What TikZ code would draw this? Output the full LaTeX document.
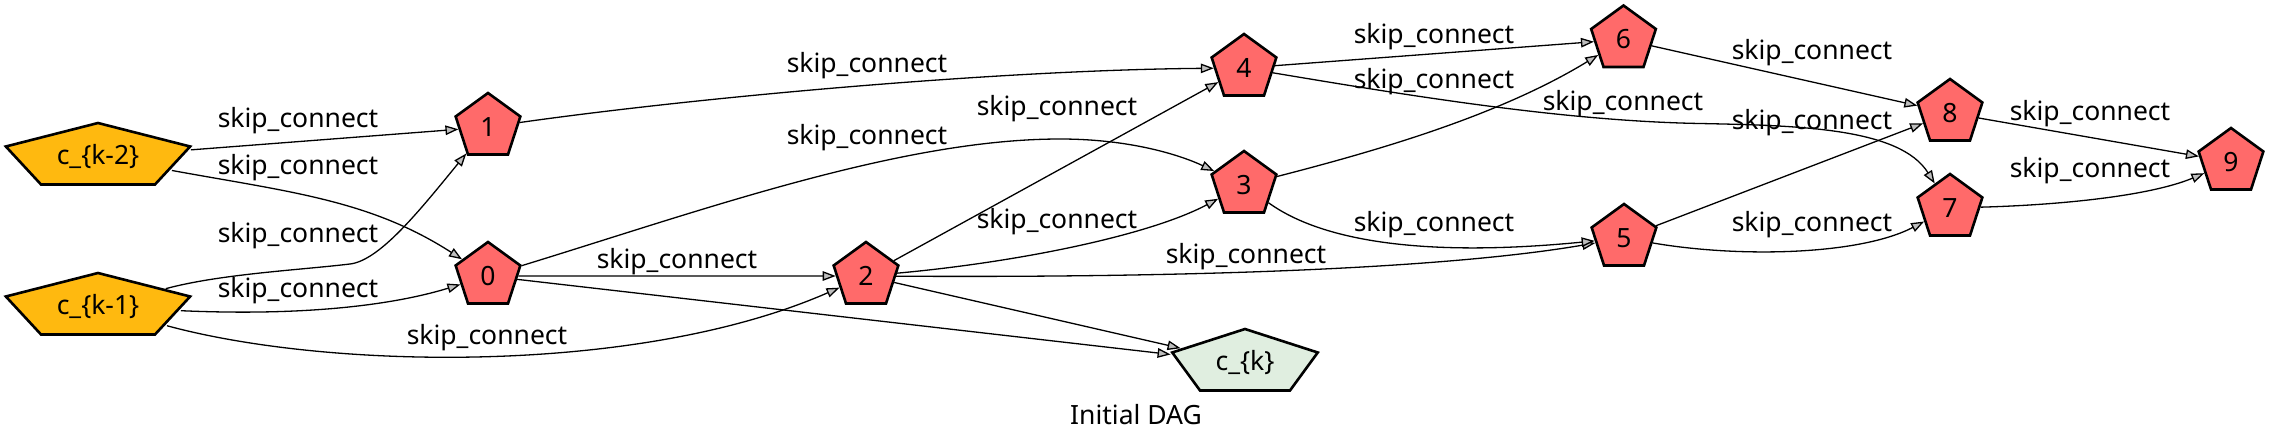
\documentclass[tikz,border=0pt]{standalone}
\usepackage{fontspec}
\setmainfont{Noto Sans}
\usetikzlibrary{shapes.geometric,arrows.meta}
\definecolor{nodered}{HTML}{FF6A6A}
\definecolor{inorange}{HTML}{FFB90F}
\definecolor{outgreen}{HTML}{E0EEE0}
\definecolor{tipgray}{HTML}{BEBEBE}
\begin{document}
\begin{tikzpicture}[x=1pt,y=-1pt,
  pent/.style={regular polygon, regular polygon sides=5, minimum size=68pt,
    inner sep=0pt, draw=black, line width=2.6pt, line join=miter},
  txt/.style={font=\fontsize{26.5}{30}\selectfont, inner sep=0pt, text=black},
  opnode/.style={pent, fill=nodered, txt},
  innode/.style={pent, fill=inorange},
  outnode/.style={pent, fill=outgreen},
  edge/.style={draw=black, line width=1.3pt,
    -{Triangle[length=13pt,width=9.5pt,fill=tipgray]}},
  lbl/.style={txt, anchor=base}]
\useasboundingbox (0,0) rectangle (2269,445);

% input nodes (stretched pentagons)
\begin{scope}[shift={(98,157)},xscale=2.85]
  \node[innode, transform shape] (ck2) at (0,0) {};
\end{scope}
\begin{scope}[shift={(98,307)},xscale=2.85]
  \node[innode, transform shape] (ck1) at (0,0) {};
\end{scope}
\begin{scope}[shift={(1245,363)},xscale=2.25]
  \node[outnode, transform shape] (ck) at (0,0) {};
\end{scope}
\node[txt] (tck2) at (ck2) {c\_\{k-2\}};
\node[txt] (tck1) at (ck1) {c\_\{k-1\}};
\node[txt] (tck) at (ck) {c\_\{k\}};

% operation nodes
\node[opnode] (n1) at (488,127) {1};
\node[opnode] (n0) at (488,276) {0};
\node[opnode] (n2) at (866,276) {2};
\node[opnode] (n4) at (1244,68) {4};
\node[opnode] (n3) at (1244,185) {3};
\node[opnode] (n6) at (1623.5,39.5) {6};
\node[opnode] (n5) at (1624,238) {5};
\node[opnode] (n8) at (1950,113) {8};
\node[opnode] (n7) at (1950,208) {7};
\node[opnode] (n9) at (2231,162) {9};

% edges
\draw[edge] (ck2) -- (n1) node[lbl] at (298,127) {skip\_connect};
\draw[edge] (ck2) .. controls (290,192) and (370,200) .. (n0)
  node[lbl] at (298,174) {skip\_connect};
\draw[edge] (ck1) .. controls (220,274) and (300,270) .. (350,264)
  .. controls (380,260.4) and (420,210) .. (n1)
  node[lbl] at (298,242) {skip\_connect};
\draw[edge] (ck1) .. controls (300,316) and (390,306) .. (n0)
  node[lbl] at (298,297) {skip\_connect};
\draw[edge] (ck1) .. controls (330,370) and (640,375) .. (n2)
  node[lbl] at (487,344) {skip\_connect};
\draw[edge] (n1) .. controls (700,97) and (1000,70) .. (n4)
  node[lbl] at (867,72) {skip\_connect};
\draw[edge] (n0) .. controls (700,211) and (900,139) .. (1060,139)
  .. controls (1130,139) and (1180,155) .. (n3)
  node[lbl] at (867,144) {skip\_connect};
\draw[edge] (n0) -- (n2) node[lbl] at (677,268) {skip\_connect};
\draw[edge] (n0) -- (ck);
\draw[edge] (n2) -- (n4) node[lbl] at (1057,115) {skip\_connect};
\draw[edge] (n2) .. controls (1020,262) and (1150,235) .. (n3)
  node[lbl] at (1057,228) {skip\_connect};
\draw[edge] (n2) .. controls (1200,278) and (1450,268) .. (n5)
  node[lbl] at (1246,263) {skip\_connect};
\draw[edge] (n2) -- (ck);
\draw[edge] (n4) -- (n6) node[lbl] at (1434,43) {skip\_connect};
\draw[edge] (n4) .. controls (1400,94) and (1560,121) .. (1700,123.5)
  .. controls (1800,125.5) and (1900,128) .. (n7)
  node[lbl] at (1623,110) {skip\_connect};
\draw[edge] (n3) .. controls (1380,150) and (1500,115) .. (n6)
  node[lbl] at (1434,88) {skip\_connect};
\draw[edge] (n3) .. controls (1320,240) and (1420,258) .. (n5)
  node[lbl] at (1434,231) {skip\_connect};
\draw[edge] (n6) -- (n8) node[lbl] at (1812,59) {skip\_connect};
\draw[edge] (n5) -- (n8) node[lbl] at (1812,129) {skip\_connect};
\draw[edge] (n5) .. controls (1740,258) and (1860,255) .. (n7)
  node[lbl] at (1812,231) {skip\_connect};
\draw[edge] (n8) -- (n9) node[lbl] at (2090,120) {skip\_connect};
\draw[edge] (n7) .. controls (2060,205) and (2150,196) .. (n9)
  node[lbl] at (2090,177) {skip\_connect};

\node[lbl] (title) at (1136,424) {Initial DAG};
\end{tikzpicture}
\end{document}
